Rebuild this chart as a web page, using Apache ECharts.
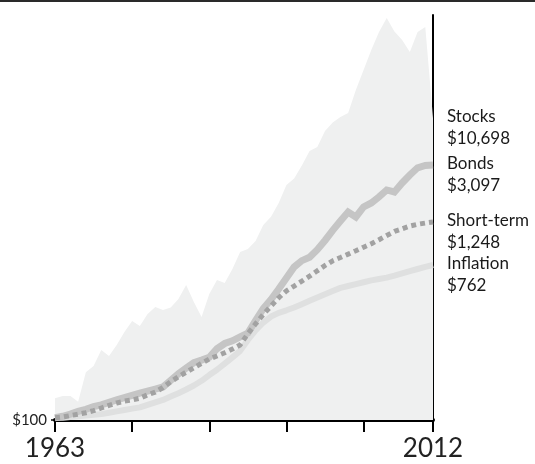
<!DOCTYPE html>
<html><head><meta charset="utf-8">
<script src="https://cdn.jsdelivr.net/npm/echarts@6/dist/echarts.min.js"></script>
<style>html,body{margin:0;padding:0;background:#fff}#c{width:535px;height:464px}</style>
</head><body><div id="c"></div>
<script>
const years = [1963,1964,1965,1966,1967,1968,1969,1970,1971,1972,1973,1974,1975,1976,1977,1978,1979,1980,1981,1982,1983,1984,1985,1986,1987,1988,1989,1990,1991,1992,1993,1994,1995,1996,1997,1998,1999,2000,2001,2002,2003,2004,2005,2006,2007,2008,2009,2010,2011,2012];
const stocks = [133,137,137,127,187,203,250,231,267,316,365,342,400,439,422,435,487,585,468,385,520,624,600,721,901,937,1040,1282,1429,1710,2164,2353,2790,3377,3557,4385,4894,5268,5550,7499,9741,12660,16020,19230,16120,14430,12330,16020,17100,5199];
const bonds = [103,105,108,112,115,119,122,126,130,134,138,142,146,150,154,168,183,197,212,219,227,254,272,282,297,312,367,430,484,555,641,740,804,841,928,1047,1195,1351,1520,1424,1623,1710,1852,2027,1975,2222,2466,2710,2793,2811];
const shortTerm = [103,104,106,108,110,113,117,121,125,128,130,133,139,144,153,165,176,187,198,210,222,231,241,253,267,309,352,398,444,495,542,577,615,656,704,755,803,838,876,916,959,1003,1058,1118,1178,1220,1264,1294,1315,1334];
const inflation = [103,103,104,105,106,107,108,110,112,114,116,118,122,126,130,136,142,149,157,167,180,193,209,227,247,285,323,358,387,406,420,436,455,476,497,518,541,563,577,592,606,621,633,644,661,681,701,721,742,760];
const seriesNames = ['Stocks','Bonds','Short-term','Inflation'];
const finalLabels = ['$10,698','$3,097','$1,248','$762'];
const xTickLabels = [1963, 2012];
const yTickLabels = ['$100'];

const FONT = 'Lato';
const pair = arr => arr.map((v,i)=>[years[i], v]);
const endLabel = i => ({
  show:true, formatter: () => seriesNames[i] + '\n' + finalLabels[i],
  color:'#1a1a1a', fontSize:17, lineHeight:22, fontFamily:FONT,
  align:'left', verticalAlign:'top', distance:14, offset:[0,-12]
});

const chart = echarts.init(document.getElementById('c'), null, {renderer:'canvas'});
chart.setOption({
  animation:false,
  grid:{left:55, right:102, top:15, bottom:44},
  xAxis:{
    type:'value', min:1963, max:2012, interval:10,
    axisLine:{show:true, lineStyle:{color:'#000', width:4}},
    axisTick:{show:true, length:12, inside:false, lineStyle:{color:'#000', width:2}},
    axisLabel:{show:true, margin:16, fontSize:26, color:'#222', fontFamily:FONT,
      showMinLabel:true, showMaxLabel:true,
      formatter: v => xTickLabels.indexOf(v) >= 0 ? String(v) : ''},
    splitLine:{show:false}
  },
  yAxis:[{
    type:'log', logBase:10, min:100, max:20000, position:'right',
    axisLine:{show:true, onZero:false, lineStyle:{color:'#000', width:2}},
    axisTick:{show:false}, axisLabel:{show:false}, splitLine:{show:false}
  },{
    type:'log', logBase:10, min:100, max:20000, position:'left',
    axisLine:{show:false},
    axisTick:{show:true, length:4, customValues:[100], lineStyle:{color:'#000', width:1.5}},
    axisLabel:{show:true, customValues:[100], margin:8, fontSize:15, color:'#222', fontFamily:FONT,
      formatter: v => Math.round(v) === 100 ? yTickLabels[0] : ''},
    splitLine:{show:false}
  }],
  series:[
    {name:seriesNames[0], type:'line', data:pair(stocks), symbol:'none', z:1,
     lineStyle:{width:0}, areaStyle:{color:'#eff0f0', opacity:1, origin:'start'},
     endLabel:endLabel(0)},
    {name:seriesNames[3], type:'line', data:pair(inflation), symbol:'none', z:2,
     lineStyle:{color:'#dfe0e0', width:6, join:'round'}, endLabel:endLabel(3)},
    {name:seriesNames[1], type:'line', data:pair(bonds), symbol:'none', z:3,
     lineStyle:{color:'#c5c5c5', width:7, join:'miter'}, endLabel:endLabel(1)},
    {name:seriesNames[2], type:'line', data:pair(shortTerm), symbol:'none', z:4,
     lineStyle:{color:'#a2a2a2', width:5, type:[5,4], cap:'butt'}, endLabel:endLabel(2)}
  ],
  graphic:[{type:'rect', left:0, top:0, shape:{width:535, height:2}, style:{fill:'#2a2a2a'}, silent:true}]
});
</script></body></html>
